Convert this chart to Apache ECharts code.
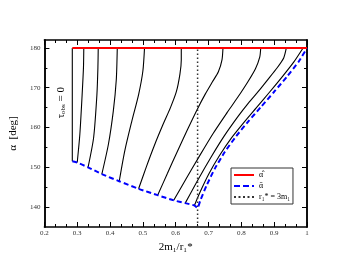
<!DOCTYPE html>
<html><head><meta charset="utf-8">
<script src="https://cdn.jsdelivr.net/npm/echarts@6/dist/echarts.min.js"></script>
<style>html,body{margin:0;padding:0;background:#fff}#c{width:346px;height:268px}</style>
</head><body><div id="c"></div>
<script>
// ---- data ----
const yMajorTicks = [140, 150, 160, 170, 180];
const yMinorTicks = [145, 155, 165, 175];
const alphaHat = [[0.285, 180], [1.0, 180]];
const alphaBar = [[0.285, 151.5], [0.300, 151.2], [0.333, 150.0], [0.375, 148.3], [0.428, 146.5],
  [0.487, 144.6], [0.545, 143.0], [0.594, 141.7], [0.629, 141.0], [0.657, 140.4], [0.666, 139.8],
  [0.676, 141.9], [0.695, 145.6], [0.720, 149.8], [0.750, 153.9], [0.785, 157.9], [0.822, 161.6],
  [0.860, 165.2], [0.900, 169.0], [0.940, 172.9], [0.975, 176.6], [1.0, 180.0]];
const r3m = [[0.6667, 135], [0.6667, 180]];
const curve0 = [[0.285, 151.5], [0.285, 180]];
const curve1 = [[0.300, 151.2], [0.308, 158.3], [0.315, 168.3], [0.319, 175], [0.320, 180]];
const curve2 = [[0.333, 150.0], [0.350, 157.5], [0.360, 168.3], [0.363, 175], [0.364, 180]];
const curve3 = [[0.375, 148.3], [0.395, 155.8], [0.410, 164.2], [0.419, 172], [0.422, 180]];
const curve4 = [[0.428, 146.5], [0.445, 154.2], [0.466, 161.5], [0.487, 168.3], [0.500, 174.2], [0.505, 180]];
const curve5 = [[0.487, 144.6], [0.510, 150], [0.535, 155.5], [0.560, 160.5], [0.584, 165.0], [0.602, 169],
  [0.613, 173.5], [0.617, 177], [0.617, 180]];
const curve6 = [[0.545, 143.0], [0.575, 148.5], [0.605, 154], [0.636, 159.5], [0.667, 164.8], [0.690, 168.4],
  [0.712, 171.5], [0.730, 174], [0.741, 177], [0.744, 180]];
const curve7 = [[0.594, 141.7], [0.630, 146.9], [0.670, 152.5], [0.714, 158.5], [0.757, 163.8], [0.789, 167.6],
  [0.819, 171.4], [0.843, 174.8], [0.856, 177.7], [0.859, 180]];
const curve8 = [[0.629, 141.0], [0.668, 146.9], [0.708, 152.6], [0.748, 157.9], [0.790, 162.8], [0.822, 166.2],
  [0.851, 169.0], [0.880, 172.0], [0.908, 174.9], [0.929, 177.5], [0.937, 180]];
const curve9 = [[0.657, 140.4], [0.675, 143.9], [0.700, 148.2], [0.733, 152.9], [0.770, 157.4], [0.808, 161.3],
  [0.846, 165.0], [0.885, 168.8], [0.925, 172.8], [0.960, 176.5], [0.988, 180]];
const blackCurves = [curve0, curve1, curve2, curve3, curve4, curve5, curve6, curve7, curve8, curve9];

const SERIF = '"Liberation Serif", "DejaVu Serif", serif';
const chart = echarts.init(document.getElementById('c'), null, { renderer: 'canvas' });

const xBase = {
  type: 'value', min: 0.2, max: 1.0, interval: 0.1,
  splitLine: { show: false },
  axisLine: { show: true, lineStyle: { color: '#000', width: 1.5 } },
  axisTick: { show: true, inside: true, length: 5, lineStyle: { color: '#000', width: 1 } },
  minorTick: { show: true, splitNumber: 3, length: 3, lineStyle: { color: '#000', width: 1 } },
  minorSplitLine: { show: false }
};
const yBase = {
  type: 'value', min: 135, max: 182,
  splitLine: { show: false },
  axisLine: { show: true, lineStyle: { color: '#000', width: 1.5 } }
};

const series = [];
blackCurves.forEach((c, i) => {
  series.push({
    name: 'c' + i, type: 'line', data: c, symbol: 'none', smooth: 0.25,
    lineStyle: { color: '#000', width: 1.1 }, z: 2, silent: true
  });
});
series.push({
  name: 'r₁* = 3m₁', type: 'line', data: r3m, symbol: 'none',
  lineStyle: { color: '#333', width: 1.5, type: [1.5, 2.5] }, itemStyle: { color: '#333' }, z: 3
});
series.push({
  name: 'ᾱ', type: 'line', data: alphaBar, symbol: 'none', smooth: 0.2,
  lineStyle: { color: '#0000ff', width: 2, type: [5, 3] }, itemStyle: { color: '#0000ff' }, z: 4
});
series.push({
  name: 'α̂', type: 'line', data: alphaHat, symbol: 'none',
  lineStyle: { color: '#ff0000', width: 2 }, itemStyle: { color: '#ff0000' }, z: 5
});

const solidIcon = 'path://M0,0h20v2h-20z';
const dashIcon = 'path://M0,0h6v2h-6zM9,0h6v2h-6zM18,0h2v2h-2z';
const dotIcon = 'path://M0,0h2v2h-2zM4.5,0h2v2h-2zM9,0h2v2h-2zM13.5,0h2v2h-2zM18,0h2v2h-2z';

chart.setOption({
  animation: false,
  backgroundColor: '#fff',
  grid: { left: 40, right: 39, top: 40, bottom: 41, containLabel: false },
  xAxis: [
    Object.assign({}, xBase, {
      position: 'bottom',
      name: '2m₁/r₁*', nameLocation: 'middle', nameGap: 9,
      nameTextStyle: { fontFamily: SERIF, fontSize: 11, color: '#000' },
      axisLabel: {
        show: true, margin: 3, fontSize: 7, fontFamily: SERIF, color: '#333',
        formatter: v => String(parseFloat(v.toFixed(2)))
      }
    }),
    Object.assign({}, xBase, { position: 'top', axisLabel: { show: false } })
  ],
  yAxis: [
    Object.assign({}, yBase, {
      position: 'left',
      name: 'α  [deg]', nameLocation: 'middle', nameGap: 15, nameRotate: 90,
      nameTextStyle: { fontFamily: SERIF, fontSize: 11, color: '#000' },
      axisTick: { show: true, inside: true, length: 5, customValues: yMajorTicks, lineStyle: { color: '#000', width: 1 } },
      axisLabel: { show: true, margin: 4, fontSize: 7, fontFamily: SERIF, color: '#333', customValues: yMajorTicks }
    }),
    Object.assign({}, yBase, {
      position: 'left', offset: 0,
      axisTick: { show: true, inside: true, length: 3, customValues: yMinorTicks, lineStyle: { color: '#000', width: 1 } },
      axisLabel: { show: false }
    }),
    Object.assign({}, yBase, {
      position: 'right', offset: 0,
      axisTick: { show: true, inside: true, length: 5, customValues: yMajorTicks, lineStyle: { color: '#000', width: 1 } },
      axisLabel: { show: false }
    }),
    Object.assign({}, yBase, {
      position: 'right', offset: 0,
      axisTick: { show: true, inside: true, length: 3, customValues: yMinorTicks, lineStyle: { color: '#000', width: 1 } },
      axisLabel: { show: false }
    })
  ],
  legend: {
    data: [
      { name: 'α̂', icon: solidIcon },
      { name: 'ᾱ', icon: dashIcon },
      { name: 'r₁* = 3m₁', icon: dotIcon }
    ],
    orient: 'vertical', left: 231, top: 168,
    backgroundColor: '#fff', borderColor: '#333', borderWidth: 1, borderRadius: 0,
    padding: [3, 3, 3, 3], itemGap: 3, itemWidth: 20, itemHeight: 2,
    textStyle: { fontFamily: SERIF, fontSize: 8, color: '#000' },
    selectedMode: false
  },
  graphic: [{
    type: 'text', left: 56, top: 87, rotation: Math.PI / 2,
    style: {
      text: '{a|τ}{s|obs}{a| = 0}',
      rich: {
        a: { fontFamily: SERIF, fontSize: 11, fill: '#000' },
        s: { fontFamily: SERIF, fontSize: 7, fill: '#000', verticalAlign: 'bottom', padding: [4, 0, 0, 0] }
      }
    }
  }],
  series: series
});
</script>
</body></html>
